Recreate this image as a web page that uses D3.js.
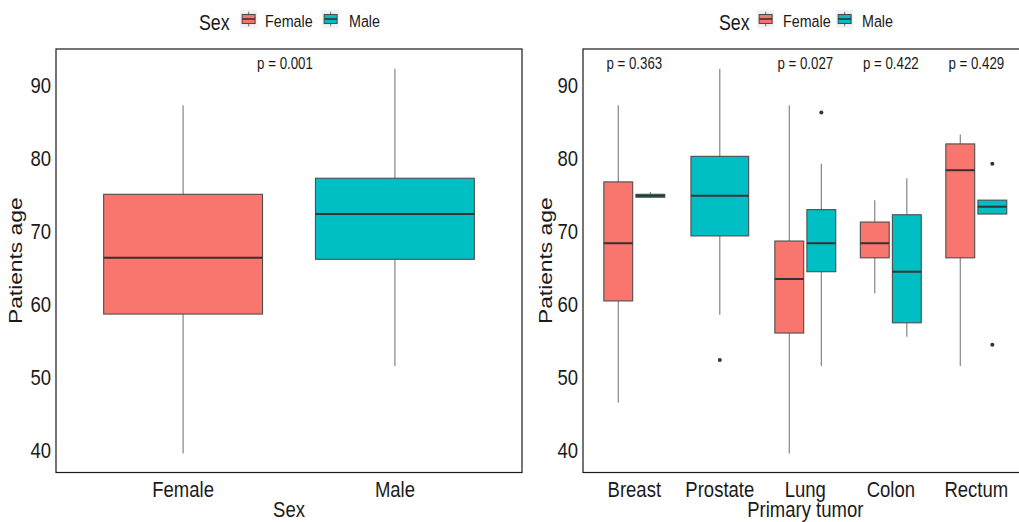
<!DOCTYPE html>
<html>
<head>
<meta charset="utf-8">
<script src="https://cdn.jsdelivr.net/npm/d3@7"></script>
<style>
  body { margin: 0; background: #fff; }
  svg { display: block; }
  text { font-family: "Liberation Sans", Arial, sans-serif; fill: #1a1a1a; }
</style>
</head>
<body>
<svg id="chart" width="1019" height="522"></svg>
<script>
// ---- data -------------------------------------------------------------
const sexes = ["Female", "Male"];
const sexColors = ["#F8766D", "#00BFC4"];
const ageTicks = [40, 50, 60, 70, 80, 90];

// age by sex: whisker ends, quartiles, median
const sexLow    = [39.4, 51.4];
const sexQ1     = [58.5, 66.0];
const sexMedian = [66.2, 72.2];
const sexQ3     = [74.9, 77.1];
const sexHigh   = [87.1, 92.1];
const sexPLabel = "p = 0.001";

// age by primary tumor and sex (no female prostate cases)
const tumors = ["Breast", "Prostate", "Lung", "Colon", "Rectum"];
const tumorPLabels = ["p = 0.363", "", "p = 0.027", "p = 0.422", "p = 0.429"];

const femaleLow    = [46.4, null, 39.4, 61.3, 51.4];
const femaleQ1     = [60.3, null, 55.9, 66.2, 66.2];
const femaleMedian = [68.2, null, 63.3, 68.2, 78.2];
const femaleQ3     = [76.6, null, 68.5, 71.1, 81.8];
const femaleHigh   = [87.1, null, 87.1, 74.1, 83.1];
const femaleOut    = [[], [], [], [], []];

const maleLow    = [74.4, 58.4, 51.4, 55.4, 72.2];
const maleQ1     = [74.5, 69.2, 64.3, 57.3, 72.2];
const maleMedian = [74.7, 74.7, 68.2, 64.3, 73.2];
const maleQ3     = [74.9, 80.1, 72.8, 72.1, 74.1];
const maleHigh   = [75.2, 92.1, 79.1, 77.1, 74.1];
const maleOut    = [[], [52.2], [86.1], [], [79.1, 54.3]];

const pLabelAge = 92;

// ---- layout -----------------------------------------------------------
const svg = d3.select("#chart");
const panelTop = 49, panelBottom = 472.5;
const y = d3.scaleLinear().domain([36.8, 94.8]).range([panelBottom, panelTop]);

const BOX_STROKE = "#4d4d4d", WHISKER = "#7a7a7a", MEDIAN = "#333333";

// text is drawn slightly taller than wide
function label(g, x, yy, str, size, anchor, rotate) {
  return g.append("text")
    .attr("transform", `translate(${x},${yy}) scale(1,1.2)` + (rotate ? " rotate(-90)" : ""))
    .attr("text-anchor", anchor || "start")
    .style("font-size", size + "px")
    .text(str);
}

function drawBox(g, b) {
  g.append("line").attr("x1", b.cx).attr("x2", b.cx)
    .attr("y1", y(b.hi)).attr("y2", y(b.q3))
    .attr("stroke", WHISKER).attr("stroke-width", 1.1);
  g.append("line").attr("x1", b.cx).attr("x2", b.cx)
    .attr("y1", y(b.q1)).attr("y2", y(b.lo))
    .attr("stroke", WHISKER).attr("stroke-width", 1.1);
  g.append("rect")
    .attr("x", b.cx - b.w / 2).attr("width", b.w)
    .attr("y", y(b.q3)).attr("height", Math.max(0.5, y(b.q1) - y(b.q3)))
    .attr("fill", b.fill).attr("stroke", BOX_STROKE).attr("stroke-width", 1.1);
  g.append("line").attr("x1", b.cx - b.w / 2).attr("x2", b.cx + b.w / 2)
    .attr("y1", y(b.med)).attr("y2", y(b.med))
    .attr("stroke", MEDIAN).attr("stroke-width", 2);
  g.selectAll(null).data(b.out).enter().append("circle")
    .attr("cx", b.cx).attr("cy", d => y(d)).attr("r", 2)
    .attr("fill", "#333");
}

function drawPanel(opts) {
  const g = svg.append("g");
  const x = d3.scaleBand().domain(opts.cats).range([opts.x0, opts.x1])
    .paddingInner(0).paddingOuter(0.1);
  const step = x.step();

  // y axis labels
  const ya = g.append("g").attr("transform", `translate(${opts.x0},0)`)
    .call(d3.axisLeft(y).tickValues(ageTicks).tickSize(0).tickPadding(5));
  ya.select(".domain").remove();
  ya.selectAll("text").attr("dy", "0.36em").attr("transform", "scale(1,1.2)")
    .style("font-size", "18.5px").style("font-family", '"Liberation Sans", Arial, sans-serif')
    .attr("fill", "#1a1a1a");

  // x axis labels
  const xa = g.append("g").attr("transform", `translate(0,${panelBottom})`)
    .call(d3.axisBottom(x).tickSize(0));
  xa.select(".domain").remove();
  xa.selectAll("text").attr("y", 20.4).attr("dy", 0).attr("transform", "scale(1,1.2)")
    .style("font-size", "18.5px").style("font-family", '"Liberation Sans", Arial, sans-serif')
    .attr("fill", "#1a1a1a");

  // boxes
  opts.boxes(x, step).forEach(b => drawBox(g, b));

  // p-value labels
  opts.pLabels(x).forEach(p => label(g, p.x, y(pLabelAge), p.text, 13.3, "middle"));

  // panel frame
  g.append("rect").attr("x", opts.x0).attr("y", panelTop)
    .attr("width", opts.x1 - opts.x0).attr("height", panelBottom - panelTop)
    .attr("fill", "none").attr("stroke", "#1a1a1a").attr("stroke-width", 1.2);

  // titles
  label(g, (opts.x0 + opts.x1) / 2, opts.xTitleY, opts.xTitle, 18.5, "middle");
  label(g, opts.yTitleX, (panelTop + panelBottom) / 2, "Patients age", 19, "middle", true);

  // legend
  const lg = g.append("g");
  label(lg, opts.legend.title, 30, "Sex", 17.8, "start");
  sexes.forEach((s, i) => {
    const kx = opts.legend.keys[i];
    lg.append("rect").attr("x", kx - 1).attr("y", 10).attr("width", 17.3).attr("height", 18)
      .attr("fill", "#f2f2f2");
    const cx = kx + 7.65;
    lg.append("line").attr("x1", cx).attr("x2", cx).attr("y1", 11.8).attr("y2", 26.2)
      .attr("stroke", WHISKER).attr("stroke-width", 1.1);
    lg.append("rect").attr("x", kx + 1.2).attr("y", 14.5).attr("width", 12.9).attr("height", 9)
      .attr("fill", sexColors[i]).attr("stroke", BOX_STROKE).attr("stroke-width", 1.1);
    lg.append("line").attr("x1", kx + 1.2).attr("x2", kx + 14.1).attr("y1", 19).attr("y2", 19)
      .attr("stroke", MEDIAN).attr("stroke-width", 1.6);
    label(lg, opts.legend.labels[i], 26.7, s, 14.3, "start");
  });
}

// left: age by sex
drawPanel({
  cats: sexes, x0: 56, x1: 522,
  xTitle: "Sex", xTitleY: 517, yTitleX: 22,
  legend: { title: 199, keys: [241, 323], labels: [265, 349] },
  boxes: (x, step) => sexes.map((s, i) => ({
    cx: x(s) + step / 2, w: 0.75 * step, fill: sexColors[i],
    lo: sexLow[i], q1: sexQ1[i], med: sexMedian[i], q3: sexQ3[i], hi: sexHigh[i], out: []
  })),
  pLabels: x => [{ x: (x(sexes[0]) + x(sexes[1]) + x.step()) / 2 - 4, text: sexPLabel }]
});

// right: age by primary tumor, dodged by sex
drawPanel({
  cats: tumors, x0: 583, x1: 1027.6,
  xTitle: "Primary tumor", xTitleY: 517, yTitleX: 551.5,
  legend: { title: 719, keys: [758, 837], labels: [783, 862] },
  boxes: (x, step) => {
    const out = [];
    tumors.forEach((t, i) => {
      const c = x(t) + step / 2;
      const groups = [];
      if (femaleMedian[i] != null) groups.push({ fill: sexColors[0],
        lo: femaleLow[i], q1: femaleQ1[i], med: femaleMedian[i], q3: femaleQ3[i], hi: femaleHigh[i], out: femaleOut[i] });
      if (maleMedian[i] != null) groups.push({ fill: sexColors[1],
        lo: maleLow[i], q1: maleQ1[i], med: maleMedian[i], q3: maleQ3[i], hi: maleHigh[i], out: maleOut[i] });
      const slot = 0.75 * step / groups.length;
      groups.forEach((gr, k) => {
        gr.cx = c - 0.375 * step + slot * (k + 0.5);
        gr.w = slot * 0.9;
        out.push(gr);
      });
    });
    return out;
  },
  pLabels: x => tumors.map((t, i) => ({ x: x(t) + x.step() / 2, text: tumorPLabels[i] }))
                      .filter(p => p.text)
});
</script>
</body>
</html>
